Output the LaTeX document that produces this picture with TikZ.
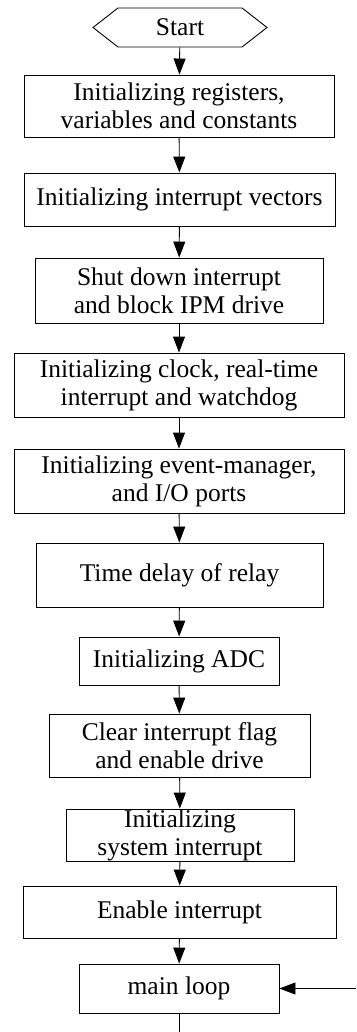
\documentclass[tikz,border=0pt]{standalone}
\usepackage{fontspec}
\setmainfont{Liberation Serif}
\usetikzlibrary{arrows.meta, shapes.symbols}

\begin{document}
\begin{tikzpicture}[x=1pt, y=-1pt, line width=0.9pt,
                    block/.style={draw, rectangle, align=center, inner sep=0pt,
                                  font=\fontsize{25.5}{28}\selectfont},
                    >={Triangle[width=12pt, length=16pt]}]
                    \useasboundingbox (0, 0) rectangle (356, 1032);

                    \node (START) [signal, signal to=west and east, signal pointer angle=76, draw, inner sep=0pt,
                                   minimum width=174pt, minimum height=39pt, font=\fontsize{25.5}{28}\selectfont] at (180, 27.5) {Start};
                    \node (REG) [block, minimum width=310pt, minimum height=62pt] at (179, 106) {Initializing registers,\\variables and constants};
                    \node (VEC) [block, minimum width=311pt, minimum height=53pt] at (179.5, 199.5) {Initializing interrupt vectors};
                    \node (SHUT) [block, minimum width=288pt, minimum height=65pt] at (179, 290.5) {Shut down interrupt\\and block IPM drive};
                    \node (CLK) [block, minimum width=330pt, minimum height=64pt] at (179, 385) {Initializing clock, real-time\\interrupt and watchdog};
                    \node (EVM) [block, minimum width=330pt, minimum height=64pt] at (179, 481) {Initializing event-manager,\\and I/O ports};
                    \node (DLY) [block, minimum width=287pt, minimum height=64pt] at (179.5, 575) {Time delay of relay};
                    \node (ADC) [block, minimum width=200pt, minimum height=48pt] at (179, 661) {Initializing ADC};
                    \node (CLR) [block, minimum width=261pt, minimum height=63pt] at (179.5, 745.5) {Clear interrupt flag\\and enable drive};
                    \node (SYS) [block, minimum width=228pt, minimum height=52pt] at (180, 835) {Initializing\\system interrupt};
                    \node (EN) [block, minimum width=313pt, minimum height=52pt] at (179.5, 912) {Enable interrupt};
                    \node (LOOP) [block, minimum width=200pt, minimum height=49pt] at (179, 988.5) {main loop};
                    \coordinate (OUT) at (179, 1032);
                    \coordinate (BACK) at (356, 988.5);

                    \draw (START) edge[->] (REG);
                    \draw (REG) edge[->] (VEC);
                    \draw (VEC) edge[->] (SHUT);
                    \draw (SHUT) edge[->] (CLK);
                    \draw (CLK) edge[->] (EVM);
                    \draw (EVM) edge[->] (DLY);
                    \draw (DLY) edge[->] (ADC);
                    \draw (ADC) edge[->] (CLR);
                    \draw (CLR) edge[->] (SYS);
                    \draw (SYS) edge[->] (EN);
                    \draw (EN) edge[->] (LOOP);
                    \draw (LOOP) -- (OUT);
                    \draw (BACK) edge[->] (LOOP);
                \end{tikzpicture}
\end{document}
